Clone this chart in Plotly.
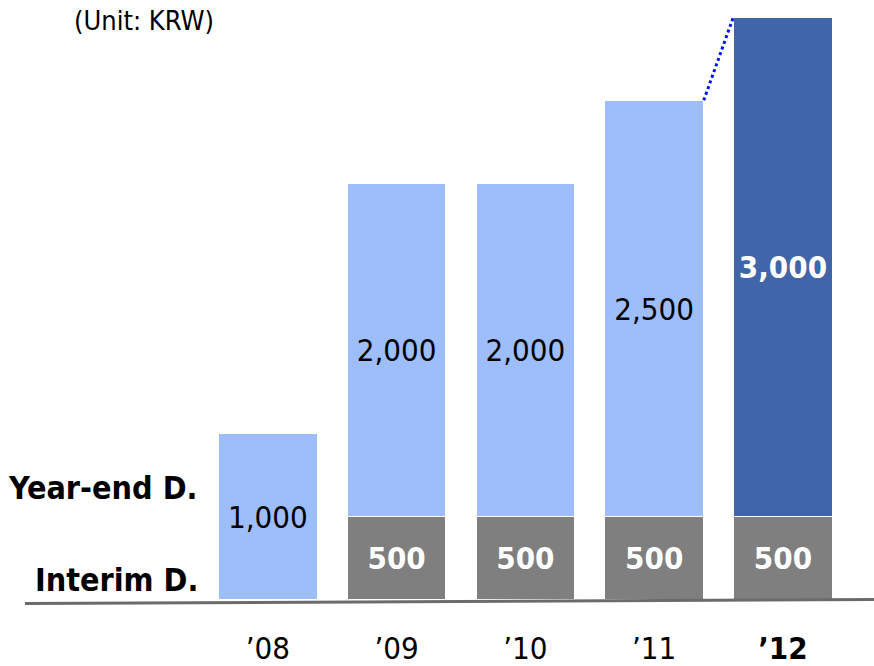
import plotly.graph_objects as go

# Dividend per share by fiscal year (KRW)
years = ["’08", "’09", "’10", "’11", "’12"]
interim = [None, 500, 500, 500, 500]
year_end = [1000, 2000, 2000, 2500, 3000]

x_pos = list(range(len(years)))
bar_w = 0.77

COND = "DejaVu Sans Condensed, DejaVu Sans, sans-serif"
GREY = "#7f7f7f"
LIGHT = "#9dbdfb"
DARK = "#4065a8"

fig = go.Figure()

# Interim dividends (bottom segment)
fig.add_trace(go.Bar(
    x=x_pos, y=interim, width=bar_w,
    marker=dict(color=GREY, line=dict(color="white", width=1.5)),
    text=[None if v is None else f"<b>{v:,}</b>" for v in interim],
    textposition="inside", insidetextanchor="middle", textangle=0,
    textfont=dict(family=COND, size=31, color="white"),
    showlegend=False, hoverinfo="skip",
))

# Year-end dividends (top segment); the latest year is highlighted
ye_colors = [LIGHT] * (len(years) - 1) + [DARK]
ye_text = [f"{v:,}" for v in year_end[:-1]] + [f"<b>{year_end[-1]:,}</b>"]
ye_font_colors = ["black"] * (len(years) - 1) + ["white"]
fig.add_trace(go.Bar(
    x=x_pos, y=year_end, width=bar_w,
    marker=dict(color=ye_colors, line=dict(color="white", width=1.5)),
    text=ye_text,
    textposition="inside", insidetextanchor="middle", textangle=0,
    textfont=dict(family=COND, size=31, color=ye_font_colors),
    showlegend=False, hoverinfo="skip",
))

# Dotted connector between the tops of the last two bars
totals = [(i or 0) + y for i, y in zip(interim, year_end)]
fig.add_trace(go.Scatter(
    x=[x_pos[-2] + bar_w / 2, x_pos[-1] - bar_w / 2],
    y=[totals[-2], totals[-1]],
    mode="lines", line=dict(color="#0010ff", width=3, dash="dot"),
    showlegend=False, hoverinfo="skip",
))

tick_text = [f"{t}" for t in years[:-1]] + [f"<b>{years[-1]}</b>"]

fig.update_layout(
    width=874, height=666,
    margin=dict(l=0, r=0, t=17, b=61),
    paper_bgcolor="white", plot_bgcolor="white",
    barmode="stack",
    xaxis=dict(
        range=[-2.08, 4.707], tickvals=x_pos, ticktext=tick_text,
        showgrid=False, zeroline=False, showline=False, ticks="",
        tickfont=dict(family=COND, size=31, color="black"),
        ticklabelstandoff=27,
    ),
    yaxis=dict(range=[0, 3500], visible=False, fixedrange=True),
    # slightly tilted baseline running under the row labels
    shapes=[dict(
        type="line", xref="paper", yref="paper",
        x0=25 / 874, x1=1, y0=-3.5 / 588, y1=0.5 / 588,
        line=dict(color="#6b6b6b", width=3), layer="above",
    )],
    annotations=[
        dict(text="(Unit: KRW)", xref="paper", yref="paper",
             x=72 / 874, y=1.0, xanchor="left", yanchor="middle", yshift=-3,
             showarrow=False, font=dict(family=COND, size=27, color="black")),
        dict(text="<b>Year-end D.</b>", xref="paper", yref="y",
             x=200 / 874, y=670, xanchor="right", yanchor="middle",
             showarrow=False, font=dict(family=COND, size=32, color="black")),
        dict(text="<b>Interim D.</b>", xref="paper", yref="y",
             x=200 / 874, y=120, xanchor="right", yanchor="middle",
             showarrow=False, font=dict(family=COND, size=32, color="black")),
    ],
)

fig.write_html("out.html")
